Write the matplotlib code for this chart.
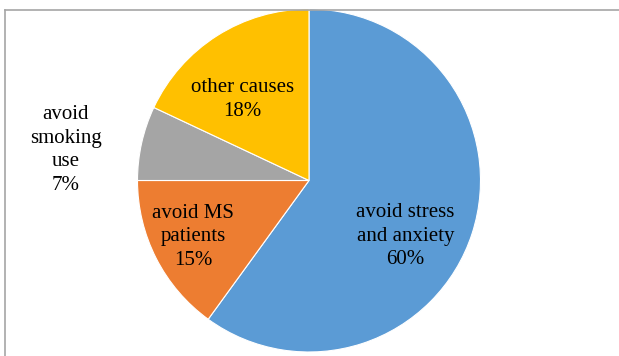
import matplotlib
matplotlib.use("Agg")
import matplotlib.pyplot as plt
import numpy as np
from matplotlib.lines import Line2D

plt.rcParams['font.family'] = ['Liberation Serif', 'DejaVu Serif']

labels = ["avoid stress\nand anxiety", "avoid MS\npatients", "avoid\nsmoking\nuse", "other causes"]
values = [60, 15, 7, 18]
colors = ["#5B9BD5", "#ED7D31", "#A5A5A5", "#FFC000"]

# label placement: fraction of radius and angle nudge (deg) per slice
label_dist = [0.65, 0.75, 1.43, 0.61]
label_shift = [-12, -1, 5.5, 7]

W, H = 619, 356
fig = plt.figure(figsize=(W / 100, H / 100), dpi=100)
ax = fig.add_axes([0, 0, 1, 1])

cx, cy, r = 309, H - 180.5, 171.5
wedges, _ = ax.pie(values, colors=colors, startangle=90, counterclock=False,
                   center=(cx, cy), radius=r, frame=True,
                   wedgeprops=dict(edgecolor='white', linewidth=0.8))
ax.set_xlim(0, W)
ax.set_ylim(0, H)
ax.set_aspect('equal')
ax.axis('off')

for w, lab, v, d, s in zip(wedges, labels, values, label_dist, label_shift):
    ang = np.deg2rad((w.theta1 + w.theta2) / 2 + s)
    x = cx + d * r * np.cos(ang)
    y = cy + d * r * np.sin(ang)
    ax.text(x, y, "{}\n{}%".format(lab, v), ha='center', va='center',
            fontsize=15, color='black', linespacing=1.32)

# chart frame (only top and left edges visible)
fig.add_artist(Line2D([5 / W, 1], [1 - 9.5 / H, 1 - 9.5 / H], transform=fig.transFigure,
                      color='#a6a6a6', linewidth=1.2))
fig.add_artist(Line2D([5 / W, 5 / W], [0, 1 - 9.5 / H], transform=fig.transFigure,
                      color='#a6a6a6', linewidth=1.2))

fig.savefig("out.png", dpi=100)
